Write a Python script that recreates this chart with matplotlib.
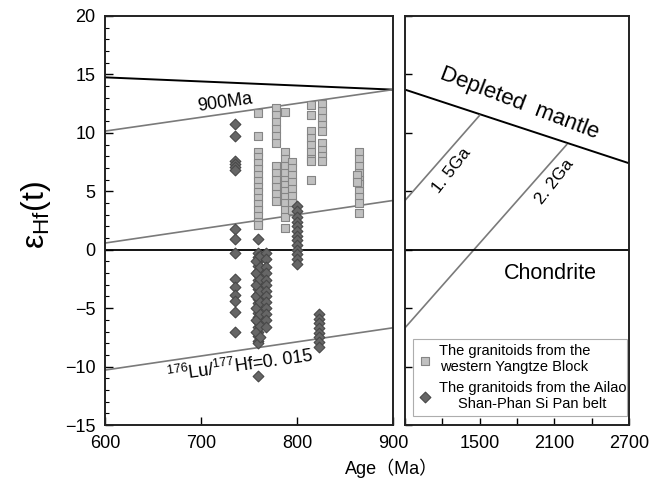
import matplotlib.pyplot as plt
from matplotlib.ticker import MultipleLocator

plt.rcParams['font.family'] = ['Liberation Sans', 'Noto Sans CJK SC', 'DejaVu Sans']
plt.rcParams['mathtext.fontset'] = 'custom'
plt.rcParams['mathtext.rm'] = 'Liberation Sans'

# zircon Hf data, western Yangtze Block (squares)
yz_age = ([759] * 16 + [778] * 12 + [788] * 13 + [795] * 8 + [815] * 9
          + [826] * 9 + [865] * 10 + [862] * 2)
yz_eps = [11.7, 9.7, 8.4, 7.9, 7.4, 6.9, 6.4, 5.9, 5.4, 4.9, 4.4, 3.9, 3.4, 2.9, 2.4, 2.1,
          12.1, 11.5, 10.9, 10.3, 9.7, 9.1, 7.2, 6.6, 6.0, 5.4, 4.8, 4.2,
          11.8, 8.4, 7.8, 7.2, 6.6, 6.0, 5.5, 5.0, 4.5, 4.0, 3.4, 2.8, 1.9,
          7.5, 7.0, 6.4, 5.8, 5.2, 4.6, 4.0, 3.4,
          12.4, 11.5, 10.2, 9.6, 9.0, 8.4, 7.8, 7.6, 6.0,
          12.5, 11.9, 11.3, 10.7, 10.2, 9.1, 8.5, 8.0, 7.6,
          8.4, 7.8, 7.2, 6.6, 6.0, 5.6, 5.0, 4.5, 4.0, 3.1,
          6.4, 5.8]

# Ailao Shan-Phan Si Pan belt (diamonds)
al_age = ([735] * 15 + [759] * 23 + [757] * 7 + [761] * 8 + [768] * 13
          + [800] * 13 + [823] * 8)
al_eps = [10.75, 9.7, 7.6, 7.3, 7.1, 6.8, 1.8, 0.95, -0.3, -2.5, -3.2, -3.9, -4.4, -5.3, -7.0,
          0.95, -0.3, -0.6, -1.0, -1.4, -1.8, -2.2, -2.6, -3.0, -3.4, -3.8, -4.2, -4.6,
          -5.0, -5.4, -5.8, -6.2, -6.6, -7.0, -7.4, -7.8, -8.0, -10.8,
          -1.0, -2.0, -3.0, -4.0, -5.0, -6.0, -7.0,
          -0.5, -1.5, -2.5, -3.5, -4.5, -5.5, -6.5, -7.5,
          -0.3, -0.8, -1.5, -2.0, -2.6, -3.0, -3.5, -4.0, -4.5, -5.0, -5.5, -6.0, -6.6,
          3.7, 3.3, 2.8, 2.4, 2.0, 1.6, 1.2, 0.8, 0.4, 0.0, -0.4, -0.8, -1.2,
          -5.5, -5.9, -6.3, -6.7, -7.1, -7.5, -7.9, -8.3]

# evolution lines
dm_age, dm_eps = [600, 2700], [14.75, 7.4]
l900_age, l900_eps = [600, 900], [10.15, 13.7]
l1500_age, l1500_eps = [600, 1500], [0.57, 11.5]
l2200_age, l2200_eps = [600, 2200], [-10.3, 9.0]

y_ticks = list(range(-15, 21, 5))
y_labels = ['\u2212' + str(-v) if v < 0 else str(v) for v in y_ticks]
x2_ticks = list(range(900, 2701, 300))
x2_labels = [str(v) if v in (1500, 2100, 2700) else '' for v in x2_ticks]

fig = plt.figure(figsize=(6.63, 4.87), dpi=100)
ax1 = fig.add_axes([105 / 663, 1 - 425 / 487, 288 / 663, 409 / 487])
ax2 = fig.add_axes([405 / 663, 1 - 425 / 487, 224 / 663, 409 / 487])

for ax in (ax1, ax2):
    ax.plot(dm_age, dm_eps, color='black', lw=1.4, zorder=2)
    for a, e in [(l900_age, l900_eps), (l1500_age, l1500_eps), (l2200_age, l2200_eps)]:
        ax.plot(a, e, color='#7a7a7a', lw=1.2, zorder=2)
    ax.axhline(0, color='black', lw=1.3, zorder=2)
    ax.set_ylim(-15, 20)
    ax.set_yticks(y_ticks)
    for s in ax.spines.values():
        s.set_linewidth(1.4)
        s.set_color('#222222')

sq = ax1.scatter(yz_age, yz_eps, marker='s', s=36, facecolor='#c0c0c0',
                 edgecolor='#858585', linewidth=0.8, zorder=3,
                 label='The granitoids from the\nwestern Yangtze Block')
dm = ax1.scatter(al_age, al_eps, marker='D', s=30, facecolor='#666666',
                 edgecolor='#484848', linewidth=0.8, zorder=4,
                 label='The granitoids from the Ailao\nShan-Phan Si Pan belt')

ax1.set_xlim(600, 900)
ax1.set_xticks([600, 700, 800, 900])
ax1.set_yticklabels(y_labels)
ax1.yaxis.set_minor_locator(MultipleLocator(1))
ax1.tick_params(which='major', direction='in', length=6, width=1,
                labelsize=13, pad=7)
ax1.tick_params(which='minor', direction='in', length=3, width=0.8)

ax2.set_xlim(900, 2700)
ax2.set_xticks(x2_ticks)
ax2.set_xticklabels(x2_labels)
ax2.set_yticklabels([])
ax2.tick_params(which='major', direction='in', length=5, width=1,
                labelsize=13, pad=7)

ax1.text(725, 12.6, '900Ma', fontsize=13, rotation=8, ha='center', va='center')
ax1.text(741, -9.9, '$^{176}$Lu/$^{177}$Hf=0. 015', fontsize=13, rotation=8,
         ha='center', va='center')
ax2.text(1820, 12.5, 'Depleted  mantle', fontsize=16, rotation=-21,
         ha='center', va='center')
ax2.text(1275, 6.8, '1. 5Ga', fontsize=12.5, rotation=52, ha='center', va='center')
ax2.text(2105, 5.8, '2. 2Ga', fontsize=12.5, rotation=52, ha='center', va='center')
ax2.text(2065, -2.0, 'Chondrite', fontsize=15.5, ha='center', va='center')

leg = ax2.legend(handles=[sq, dm], loc='lower left',
                 bbox_to_anchor=(0.036, 0.022, 0.955, 0.2), mode='expand',
                 fontsize=10.5, frameon=True, fancybox=False, edgecolor='#999999',
                 handletextpad=0.5, borderpad=0.35, labelspacing=0.45,
                 handlelength=0.9, borderaxespad=0)
leg.get_frame().set_linewidth(0.8)
for t in leg.get_texts():
    t.set_multialignment('center')

fig.text(36 / 663, 1 - 215 / 487, '\u03b5$_{\\mathrm{Hf}}$(t)', fontsize=23,
         rotation=90, ha='center', va='center')
fig.text(392 / 663, 1 - 468 / 487, 'Age\uff08Ma\uff09', fontsize=13,
         ha='center', va='center')

fig.savefig('out.png', dpi=100)
